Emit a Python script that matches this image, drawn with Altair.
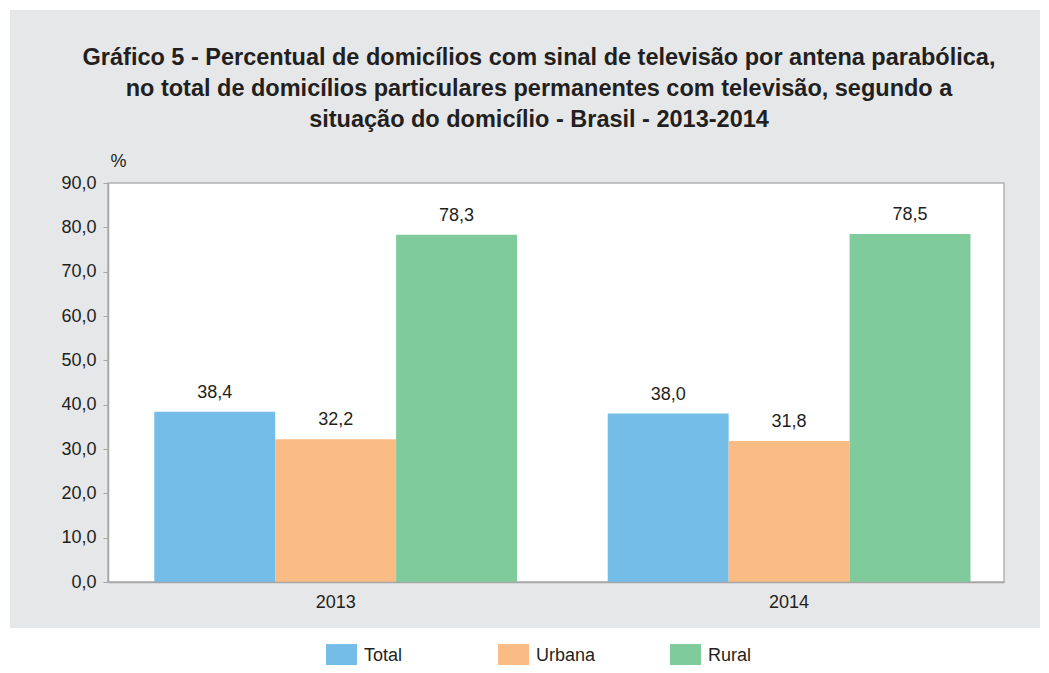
import altair as alt
import pandas as pd

years = ["2013", "2014"]
series = ["Total", "Urbana", "Rural"]
values_2013 = [38.4, 32.2, 78.3]
values_2014 = [38.0, 31.8, 78.5]
colors = ["#74bde8", "#fabb85", "#80cb9b"]
y_ticks = [0, 10, 20, 30, 40, 50, 60, 70, 80, 90]

rows = []
for yr, vals in zip(years, [values_2013, values_2014]):
    for s, v in zip(series, vals):
        rows.append({"ano": yr, "serie": s, "valor": v})
df = pd.DataFrame(rows)

W, H = 896, 399
FONT = "Liberation Sans"
TXT = "#231f20"
FS = 18

panel = alt.Chart(alt.Data(values=[{"a": 1}])).mark_rect(color="#e6e7e8").encode(
    x=alt.value(-98), x2=alt.value(932), y=alt.value(-173), y2=alt.value(445)
)
plotbg = alt.Chart(alt.Data(values=[{"a": 1}])).mark_rect(
    color="white", stroke="#b3b3b3", strokeWidth=1.5
).encode(x=alt.value(0), x2=alt.value(W), y=alt.value(0), y2=alt.value(H))

x_enc = alt.X("ano:N", title=None, sort=years,
              scale=alt.Scale(paddingInner=0.2, paddingOuter=0.088, align=0.58),
              axis=alt.Axis(labelAngle=0, labelFontSize=FS, labelColor=TXT, labelFont=FONT,
                            labelPadding=11, ticks=False, domainColor="#a6a6a6", domainWidth=1.5,
                            zindex=2))
y_enc = alt.Y("valor:Q", scale=alt.Scale(domain=[0, 90], nice=False),
              axis=alt.Axis(values=y_ticks, title="%", titleAngle=0, titleAlign="left",
                            titleBaseline="bottom", titleX=2, titleY=-13, titleFontSize=FS,
                            titleFontWeight="normal", titleColor=TXT, titleFont=FONT,
                            labelExpr="replace(format(datum.value, '.1f'), '.', ',')",
                            labelFontSize=FS, labelColor=TXT, labelFont=FONT, labelPadding=7,
                            tickSize=5, tickColor="#a6a6a6", domainColor="#a6a6a6",
                            domainWidth=1.5, grid=False, zindex=2))

base = alt.Chart(df)
bars = base.mark_bar().encode(
    x=x_enc,
    xOffset=alt.XOffset("serie:N", sort=series),
    y=y_enc,
    color=alt.Color("serie:N", sort=series,
                    scale=alt.Scale(domain=series, range=colors),
                    legend=alt.Legend(title=None, orient="none", direction="horizontal",
                                      legendX=218, legendY=457, padding=0, zindex=2,
                                      symbolType="M-1,-0.74H1V0.74H-1Z", symbolSize=961,
                                      symbolStrokeWidth=0, symbolOpacity=1,
                                      labelFontSize=FS, labelColor=TXT, labelFont=FONT,
                                      labelOffset=7, gridAlign="all", columnPadding=74)),
)
labels = base.transform_calculate(
    rot="replace(format(datum.valor, '.1f'), '.', ',')"
).mark_text(baseline="bottom", dy=-10, fontSize=FS, color=TXT, font=FONT).encode(
    x=alt.X("ano:N", sort=years),
    xOffset=alt.XOffset("serie:N", sort=series),
    y="valor:Q",
    text="rot:N",
)

chart = alt.layer(panel, plotbg, bars, labels).properties(
    width=W, height=H,
    autosize=alt.AutoSizeParams(type="none"),
    padding={"left": 100, "top": 175, "right": 37, "bottom": 83},
    title=alt.TitleParams(
        text=["Gráfico 5 - Percentual de domicílios com sinal de televisão por antena parabólica,",
              "no total de domicílios particulares permanentes com televisão, segundo a",
              "situação do domicílio - Brasil - 2013-2014"],
        anchor="middle", dx=-17, offset=-121, fontSize=23.5, font=FONT, fontWeight="bold",
        color=TXT, lineHeight=31, zindex=2,
    ),
).configure_view(stroke=None).configure(background="white")

chart.save("out.html", embed_options={"renderer": "svg", "actions": False})
